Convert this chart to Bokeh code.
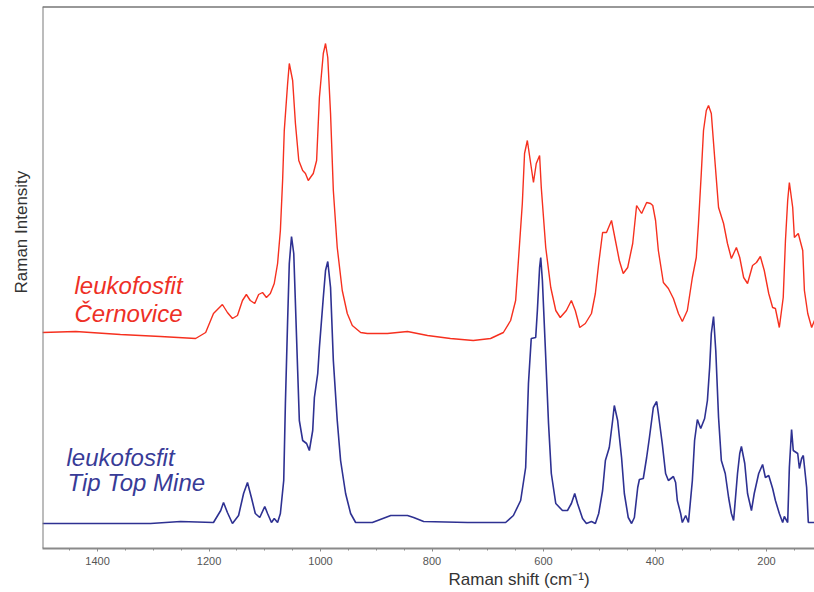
from bokeh.plotting import figure
from bokeh.models import Range1d, Label, Span, SingleIntervalTicker, Title
from bokeh.embed import file_html
from bokeh.resources import INLINE

# Raman shift (cm-1) and intensity (arbitrary units)
red_wn = [1499, 1439, 1359, 1287, 1224, 1215, 1206, 1192, 1176, 1167, 1158, 1149, 1140, 1133, 1126,
          1118, 1111, 1104, 1097, 1090, 1083, 1077, 1072, 1068, 1065, 1059, 1056, 1050, 1045, 1039,
          1032, 1027, 1022, 1013, 1007, 1002, 995, 991, 987, 982, 977, 970, 961, 952, 943, 928, 916,
          880, 844, 808, 767, 726, 695, 672, 659, 650, 645, 638, 634, 629, 623, 618, 613, 607, 604,
          596, 587, 578, 570, 559, 550, 543, 535, 525, 514, 507, 501, 494, 487, 478, 471, 464, 457,
          449, 440, 433, 424, 415, 408, 404, 399, 394, 385, 376, 367, 358, 351, 342, 333, 326, 322,
          317, 313, 308, 304, 299, 293, 286, 277, 270, 263, 254, 248, 241, 234, 225, 218, 211, 204,
          196, 189, 184, 177, 170, 166, 162, 159, 153, 150, 143, 135, 132, 126, 119, 114]
red_int = [216, 217, 214, 212, 210, 213, 216, 235, 244, 236, 230, 233, 248, 254, 248,
           245, 254, 256, 251, 255, 265, 285, 318, 368, 418, 465, 485, 468, 425, 388,
           378, 375, 368, 375, 388, 451, 495, 505, 491, 435, 358, 301, 258, 235, 223, 216, 215,
           215, 217, 213, 210, 208, 210, 216, 228, 248, 288, 345, 395, 408, 385, 366, 385, 393, 361,
           301, 261, 238, 231, 238, 248, 238, 221, 225, 235, 255, 285, 316, 316, 328, 308, 288, 275,
           281, 305, 343, 335, 346, 345, 343, 328, 298, 266, 260, 250, 235, 227, 238, 271, 291, 325,
           375, 418, 438, 443, 435, 391, 341, 325, 305, 290, 301, 291, 271, 265, 283, 286, 292, 278,
           255, 241, 240, 221, 251, 308, 348, 366, 341, 311, 315, 298, 258, 235, 221, 228]

blue_wn = [1499, 1395, 1305, 1251, 1192, 1179, 1174, 1167, 1158, 1147, 1138, 1131, 1124, 1117, 1109,
           1100, 1095, 1088, 1083, 1077, 1072, 1066, 1063, 1059, 1056, 1052, 1048, 1045, 1041, 1038,
           1032, 1025, 1020, 1014, 1011, 1005, 1002, 995, 991, 987, 982, 977, 970, 964, 955, 946, 937,
           907, 874, 844, 833, 815, 736, 668, 654, 641, 632, 627, 622, 614, 611, 607, 605, 602, 596,
           591, 586, 578, 566, 557, 550, 544, 539, 530, 523, 514, 507, 501, 494, 489, 482, 476, 473,
           467, 460, 455, 448, 442, 437, 431, 428, 421, 415, 410, 403, 397, 394, 387, 381, 376, 367,
           363, 360, 354, 351, 345, 340, 333, 329, 324, 318, 311, 306, 302, 299, 295, 291, 286, 281,
           274, 268, 263, 259, 252, 248, 245, 239, 234, 227, 222, 214, 207, 202, 196, 189, 184, 177,
           171, 168, 162, 159, 155, 152, 144, 141, 137, 134, 128, 125, 114]
blue_int = [25, 25, 25, 27, 26, 38, 46, 36, 25, 33, 55, 66, 51, 35, 31,
            42, 35, 26, 30, 26, 35, 68, 145, 228, 285, 312, 295, 245, 178, 128,
            108, 105, 98, 118, 151, 175, 201, 251, 278, 287, 261, 188, 128, 88, 55, 35, 26,
            26, 33, 33, 31, 27, 26, 26, 33, 48, 81, 165, 210, 211, 238, 281, 291, 268, 191,
            125, 75, 45, 38, 38, 45, 55, 45, 30, 25, 27, 25, 35, 58, 88, 101, 128, 143,
            128, 91, 55, 31, 25, 31, 61, 69, 70, 91, 111, 141, 147, 135, 105, 75, 68, 72,
            66, 48, 35, 26, 33, 26, 68, 108, 129, 120, 130, 148, 181, 215, 232, 198, 131, 88,
            75, 51, 35, 28, 75, 95, 102, 85, 55, 38, 55, 75, 84, 71, 73, 60, 48, 35,
            26, 32, 26, 81, 119, 98, 95, 80, 90, 93, 61, 26, 26]

series_names = ["leukofosfit\nČernovice", "leukofosfit\nTip Top Mine"]
x_title = "Raman shift (cm\u207b\u00b9)"
y_title = "Raman Intensity"

RED_LINE = "#f6301f"
RED_TEXT = "#ee3026"
BLUE_LINE = "#2e3192"
BLUE_TEXT = "#383b97"
FONT = "Liberation Sans"

p = figure(width=814, height=592, output_backend="svg", toolbar_location=None,
           x_range=Range1d(1498.7, 113.9), y_range=Range1d(0, 542),
           y_axis_location=None, min_border_left=42, min_border_right=0,
           min_border_top=6, min_border_bottom=44)
p.outline_line_color = None
p.grid.visible = False
p.background_fill_color = "white"
p.border_fill_color = "white"

p.line(red_wn, red_int, line_color=RED_LINE, line_width=1.4)
p.line(blue_wn, blue_int, line_color=BLUE_LINE, line_width=1.6)

# frame borders (top and left)
p.add_layout(Span(location=542, dimension="width", line_color="#333333", line_width=2))
p.add_layout(Span(location=1498.7, dimension="height", line_color="#7a7a7a", line_width=2))

ax = p.xaxis[0]
ax.ticker = SingleIntervalTicker(interval=200, num_minor_ticks=4)
ax.axis_line_color = "#8a8a8a"
ax.axis_line_width = 2
ax.major_tick_line_color = "#8a8a8a"
ax.minor_tick_line_color = "#8a8a8a"
ax.major_tick_in = 0
ax.major_tick_out = 3
ax.minor_tick_in = 0
ax.minor_tick_out = 2
ax.major_label_standoff = 5
ax.major_label_text_font = FONT
ax.major_label_text_font_size = "11px"
ax.major_label_text_color = "#555555"

p.add_layout(Title(text=x_title, align="left", offset=406, standoff=0,
                   text_font=FONT, text_font_size="17px", text_color="#333333",
                   text_font_style="normal"), "below")
p.add_layout(Title(text=y_title, align="left", offset=255, standoff=20, vertical_align="top",
                   text_font=FONT, text_font_size="17px", text_color="#333333",
                   text_font_style="normal"), "left")

red_lines = series_names[0].split("\n")
blue_lines = series_names[1].split("\n")
for txt, xs, ys in [(red_lines[0], 32, 263), (red_lines[1], 32, 235)]:
    p.add_layout(Label(x=xs, y=ys, x_units="screen", y_units="screen", text=txt,
                       text_font=FONT, text_font_size="24px", text_font_style="italic",
                       text_color=RED_TEXT, text_align="left", text_baseline="alphabetic"))
for txt, xs, ys in [(blue_lines[0], 24, 91), (blue_lines[1], 25, 66)]:
    p.add_layout(Label(x=xs, y=ys, x_units="screen", y_units="screen", text=txt,
                       text_font=FONT, text_font_size="24px", text_font_style="italic",
                       text_color=BLUE_TEXT, text_align="left", text_baseline="alphabetic"))

open("out.html", "w").write(file_html(p, INLINE))
